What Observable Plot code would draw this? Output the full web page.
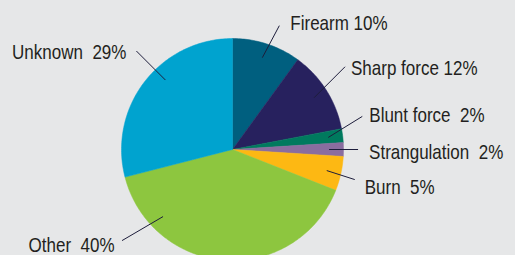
<!DOCTYPE html>
<html><head><meta charset="utf-8">
<script src="https://cdn.jsdelivr.net/npm/d3@7"></script>
<script src="https://cdn.jsdelivr.net/npm/@observablehq/plot@0.6"></script>
<style>
html,body{margin:0;padding:0;background:#e6e7e8;overflow:hidden;}
</style></head><body><div id="chart"></div>
<script>
// ---- data ----
const categories = ["Firearm","Sharp force","Blunt force","Strangulation","Burn","Other","Unknown"];
const shares = [10,12,2,2,5,40,29];
const labels = ["Firearm 10%","Sharp force 12%","Blunt force\u00a0 2%","Strangulation\u00a0 2%","Burn\u00a0 5%","Other\u00a0 40%","Unknown\u00a0 29%"];
const colors = ["#005f7f","#27215e","#007a5e","#8a6d9f","#fdb813","#8dc63f","#00a3cf"];

// ---- layout ----
const W = 515, H = 255, CX = 232, CY = 149, R = 111;
const leaderR = 0.87;
const textScaleX = 0.81;
const labelLayout = {
  "Firearm":       {out:[17,-32], text:[11,-2.5], anchor:"start"},
  "Sharp force":   {out:[31,-31], text:[6,2],    anchor:"start"},
  "Blunt force":   {out:[34,-21], text:[7,-1.5], anchor:"start"},
  "Strangulation": {out:[29,0],   text:[11,2.5], anchor:"start"},
  "Burn":          {out:[28,9],   text:[10,8],   anchor:"start"},
  "Other":         {ang:226, out:[-41,24], text:[-7.5,5], anchor:"end"},
  "Unknown":       {ang:316, out:[-29,-29], text:[-10,1], anchor:"end"}
};

// ---- geometry from data ----
const total = d3.sum(shares);
const slicePts = [];
const labelData = [];
let cum = 0;
categories.forEach((name, i) => {
  const a0 = cum / total * 2 * Math.PI;
  cum += shares[i];
  const a1 = cum / total * 2 * Math.PI;
  const steps = Math.max(2, Math.ceil((a1 - a0) / (2 * Math.PI) * 360));
  slicePts.push({name, x: 0, y: 0});
  for (let k = 0; k <= steps; k++) {
    const a = a0 + (a1 - a0) * k / steps;
    slicePts.push({name, x: Math.sin(a), y: Math.cos(a)});
  }
  slicePts.push({name, x: 0, y: 0});
  const L = labelLayout[name];
  const am = L.ang != null ? L.ang * Math.PI / 180 : (a0 + a1) / 2;
  const x1 = leaderR * Math.sin(am), y1 = leaderR * Math.cos(am);
  const x2 = x1 + L.out[0] / R, y2 = y1 - L.out[1] / R;
  labelData.push({name, label: labels[i], x1, y1, x2, y2,
    tx: x2 + L.text[0] / R, ty: y2 - L.text[1] / R, anchor: L.anchor});
});

const chart = Plot.plot({
  width: W, height: H, margin: 0,
  x: {domain: [-CX / R, (W - CX) / R], axis: null},
  y: {domain: [-(H - CY) / R, CY / R], axis: null},
  color: {domain: categories, range: colors},
  style: {background: "transparent", fontFamily: "'Liberation Sans',Arial,sans-serif", overflow: "hidden"},
  marks: [
    Plot.line(slicePts, {x: "x", y: "y", z: "name", fill: "name", stroke: "name", strokeWidth: 0.5}),
    Plot.link(labelData, {x1: "x1", y1: "y1", x2: "x2", y2: "y2", stroke: "#1d1d3b", strokeWidth: 1}),
    Plot.text(labelData.filter(d => d.anchor === "start"), {x: "tx", y: "ty", text: "label", textAnchor: "start", fontSize: 21, fill: "#231f20"}),
    Plot.text(labelData.filter(d => d.anchor === "end"), {x: "tx", y: "ty", text: "label", textAnchor: "end", fontSize: 21, fill: "#231f20"})
  ]
});
// condensed look: compress label glyphs horizontally around their anchor
chart.querySelectorAll("text").forEach(t => {
  const tr = t.getAttribute("transform") || "";
  t.setAttribute("transform", tr + ` scale(${textScaleX},1)`);
});
document.getElementById("chart").appendChild(chart);
</script></body></html>
